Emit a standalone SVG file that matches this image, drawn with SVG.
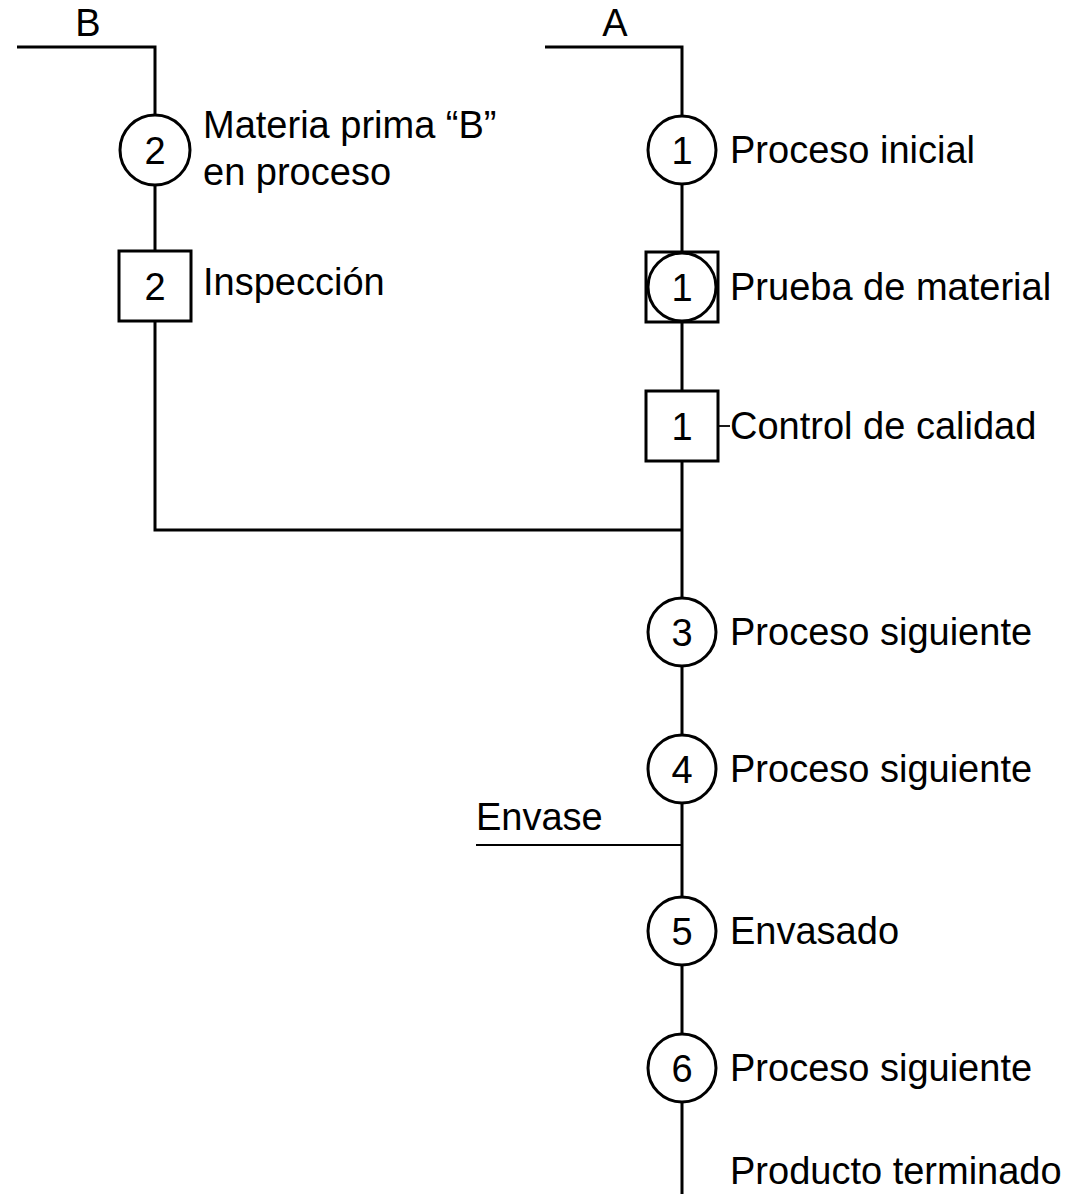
<svg xmlns="http://www.w3.org/2000/svg" width="1075" height="1194" viewBox="0 0 1075 1194">
<style>
.ln{stroke:#000;stroke-width:3;fill:none}
.thin{stroke:#000;stroke-width:1.8;fill:none}
.sym{stroke:#000;stroke-width:3;fill:#fff}
text{font-family:"Liberation Sans",Arial,sans-serif;font-size:38px;fill:#000}
.num{text-anchor:middle}
</style>
<rect width="1075" height="1194" fill="#fff"/>
<g id="connectors">
<polyline class="ln" points="17,47 155,47 155,251"/>
<polyline class="ln" points="155,321 155,530 682,530"/>
<polyline class="ln" points="545,47 682,47 682,1194"/>
<line class="thin" x1="476" y1="845" x2="682" y2="845"/>
<line class="thin" x1="718" y1="426" x2="730" y2="426"/>
</g>
<g id="input-B"><text x="88" y="36" class="num">B</text></g>
<g id="input-A"><text x="615" y="36" class="num">A</text></g>
<g id="op2">
<circle class="sym" cx="155" cy="150" r="35"/>
<text x="155" y="164" class="num">2</text>
<text x="203" y="138">Materia prima “B”</text>
<text x="203" y="185">en proceso</text>
</g>
<g id="insp2">
<rect class="sym" x="119" y="251" width="72" height="70"/>
<text x="155" y="300" class="num">2</text>
<text x="203" y="295">Inspección</text>
</g>
<g id="op1">
<circle class="sym" cx="682" cy="150" r="34"/>
<text x="682" y="164" class="num">1</text>
<text x="730" y="163">Proceso inicial</text>
</g>
<g id="combined1">
<rect class="sym" x="646" y="252" width="72" height="70"/>
<circle class="sym" cx="682" cy="287" r="34"/>
<text x="682" y="301" class="num">1</text>
<text x="730" y="300">Prueba de material</text>
</g>
<g id="insp1">
<rect class="sym" x="646" y="391" width="72" height="70"/>
<text x="682" y="440" class="num">1</text>
<text x="730" y="439">Control de calidad</text>
</g>
<g id="op3">
<circle class="sym" cx="682" cy="632" r="34"/>
<text x="682" y="646" class="num">3</text>
<text x="730" y="645">Proceso siguiente</text>
</g>
<g id="op4">
<circle class="sym" cx="682" cy="769" r="34"/>
<text x="682" y="783" class="num">4</text>
<text x="730" y="782">Proceso siguiente</text>
</g>
<g id="envase"><text x="476" y="830">Envase</text></g>
<g id="op5">
<circle class="sym" cx="682" cy="931" r="34"/>
<text x="682" y="945" class="num">5</text>
<text x="730" y="944">Envasado</text>
</g>
<g id="op6">
<circle class="sym" cx="682" cy="1068" r="34"/>
<text x="682" y="1082" class="num">6</text>
<text x="730" y="1081">Proceso siguiente</text>
</g>
<g id="final"><text x="730" y="1184">Producto terminado</text></g>
</svg>
